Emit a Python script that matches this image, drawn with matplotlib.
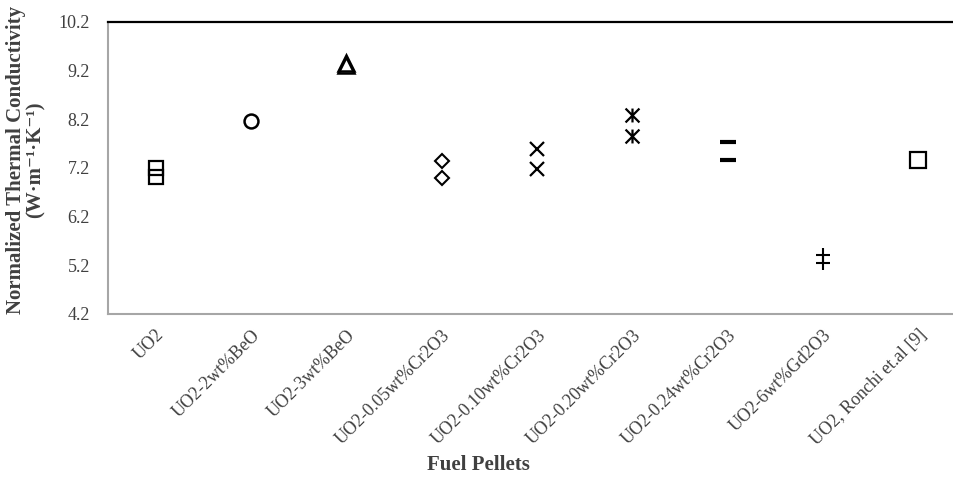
"""Normalized thermal conductivity of the fuel pellet variants.

Excel-style category scatter: one open black marker style per pellet,
two measurements per pellet where available.
"""
import matplotlib
matplotlib.use("Agg")
import matplotlib.pyplot as plt
from matplotlib.path import Path


pellets = [
    "UO2",
    "UO2-2wt%BeO",
    "UO2-3wt%BeO",
    "UO2-0.05wt%Cr2O3",
    "UO2-0.10wt%Cr2O3",
    "UO2-0.20wt%Cr2O3",
    "UO2-0.24wt%Cr2O3",
    "UO2-6wt%Gd2O3",
    "UO2, Ronchi et.al [9]",
]

# measured values per pellet (W m-1 K-1)
conductivity = [
    [7.19, 7.02],
    [8.16],
    [9.35, 9.32],
    [7.34, 6.99],
    [7.60, 7.18],
    [8.28, 7.86],
    [7.74, 7.36],
    [5.41, 5.24],
    [7.37],
]

yticks = [4.2, 5.2, 6.2, 7.2, 8.2, 9.2, 10.2]

# asterisk = "x" with a vertical stroke, like Excel's marker
ASTERISK = Path(
    [(-0.5, -0.5), (0.5, 0.5), (-0.5, 0.5), (0.5, -0.5), (0, -0.5), (0, 0.5)],
    [Path.MOVETO, Path.LINETO] * 3,
)

# marker, markersize, edge width per pellet
styles = [
    ("s", 10, 1.6),
    ("o", 10, 1.8),
    ("^", 11, 1.8),
    ("D", 7.5, 1.5),
    ("x", 10, 1.6),
    (ASTERISK, 10, 1.6),
    ("_", 11, 3.0),
    ("+", 10, 1.5),
    ("s", 11, 1.6),
]

SERIF = ["Liberation Serif", "DejaVu Serif"]
TEXT = "#404040"
SPINE = "#a6a6a6"

plt.rcParams["font.family"] = SERIF

fig = plt.figure(figsize=(9.54, 4.79), dpi=100)
# the plot area runs slightly past the right edge of the picture
ax = fig.add_axes([108 / 954, 1 - 314 / 479, 858 / 954, 292 / 479])

for i, (vals, (mk, ms, mew)) in enumerate(zip(conductivity, styles)):
    ax.plot([i] * len(vals), vals, linestyle="none", marker=mk,
            markersize=ms, markeredgewidth=mew, markeredgecolor="black",
            markerfacecolor="none", color="black", clip_on=False)

ax.set_xlim(-0.5, len(pellets) - 0.5)
ax.set_ylim(yticks[0], yticks[-1])
ax.set_yticks(yticks)
ax.set_yticklabels([f"{v:.1f}" for v in yticks])
ax.set_xticks(range(len(pellets)))
ax.set_xticklabels(pellets, rotation=45, ha="right", rotation_mode="anchor")

ax.tick_params(axis="y", length=0, pad=13, labelsize=13, labelcolor=TEXT)
ax.tick_params(axis="x", length=0, pad=9, labelsize=13, labelcolor=TEXT)

for side in ("left", "bottom"):
    ax.spines[side].set_color(SPINE)
    ax.spines[side].set_linewidth(1.5)
ax.spines["right"].set_visible(False)
ax.spines["top"].set_color("black")
ax.spines["top"].set_linewidth(1.6)

# axis titles are placed in figure pixels to match the original layout
fig.text(26 / 954, 1 - 160 / 479,
         "Normalized Thermal Conductivity\n(W\u00b7m\u207b\u00b9\u00b7K\u207b\u00b9)",
         rotation=90, ha="center", va="center", multialignment="center",
         fontsize=15, fontweight="bold", color=TEXT, linespacing=1.0)
fig.text(478 / 954, 1 - 465 / 479, "Fuel Pellets", ha="center", va="center",
         fontsize=15, fontweight="bold", color=TEXT)

fig.savefig("out.png", dpi=100)
